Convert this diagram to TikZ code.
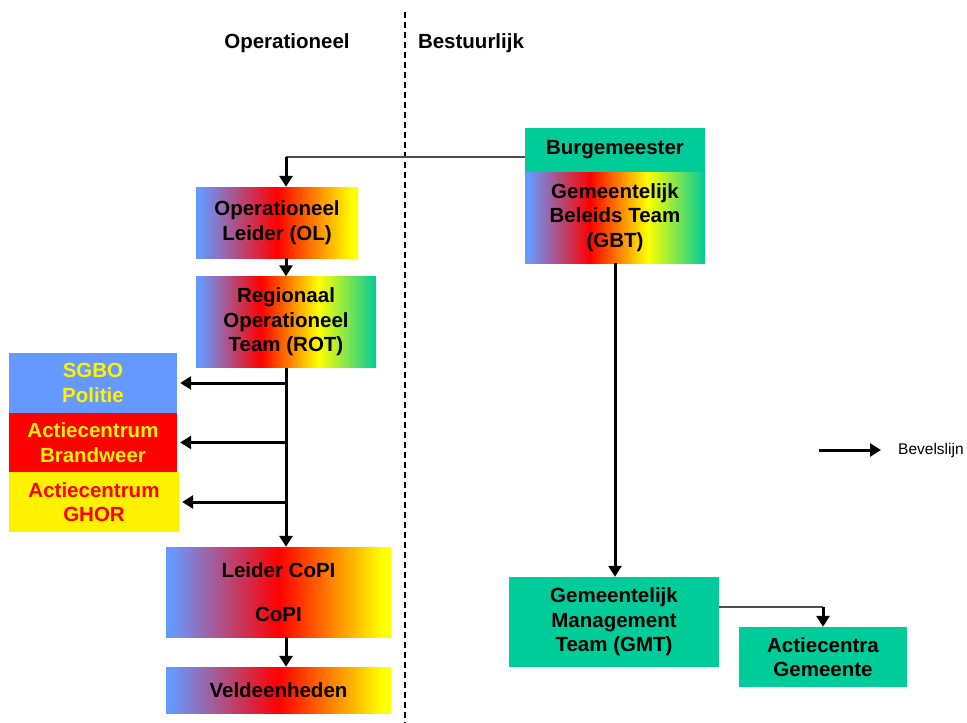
\documentclass[tikz,border=0pt]{standalone}
\usepackage{fontspec}
\setmainfont{Liberation Sans}
\usetikzlibrary{arrows.meta}
\definecolor{pblue}{HTML}{6699FF}
\definecolor{gmgreen}{HTML}{00CC99}
\pgfdeclarehorizontalshading{rainbowthree}{100bp}{color(0bp)=(pblue); color(26bp)=(pblue); color(50bp)=(red); color(73bp)=(yellow); color(100bp)=(yellow)}
\pgfdeclarehorizontalshading{rainbowfour}{100bp}{color(0bp)=(pblue); color(26bp)=(pblue); color(43bp)=(red); color(59bp)=(yellow); color(75bp)=(gmgreen); color(100bp)=(gmgreen)}

\begin{document}
\begin{tikzpicture}[x=1pt,y=-1pt,
    box/.style={rectangle,inner sep=0pt,align=center,font=\bfseries\fontsize{20.5}{24.5}\selectfont},
    rbthree/.style={box,shade,shading=rainbowthree},
    rbfour/.style={box,shade,shading=rainbowfour},
    cmd/.style={line width=3pt,-{Triangle[length=11pt,width=13pt]}},
    thinline/.style={line width=1.4pt,black!70}]
    \useasboundingbox (0,0) rectangle (967,723);

    % kolommen
    \draw [line width=2pt,dash pattern=on 6pt off 4pt] (405,12) -- (405,723);
    \node[box] (opkop) at (287,43) {Operationeel};
    \node[box] (bekop) at (471,43) {Bestuurlijk};

    % bestuurlijk
    \node[box,fill=gmgreen,minimum width=180pt,minimum height=44pt] (burg) at (615,150) {Burgemeester};
    \node[rbfour,minimum width=180pt,minimum height=91pt] (gbt) at (615,217.5) {Gemeentelijk\\Beleids Team\\(GBT)};
    \node[box,fill=gmgreen,minimum width=210pt,minimum height=90pt] (gmt) at (614,622) {Gemeentelijk\\Management\\Team (GMT)};
    \node[box,fill=gmgreen,minimum width=168pt,minimum height=60pt] (actie) at (823,657) {Actiecentra\\Gemeente};

    % operationeel
    \node[rbthree,minimum width=162pt,minimum height=71pt] (ol) at (277,222.5) {Operationeel\\Leider (OL)};
    \node[rbfour,minimum width=180pt,minimum height=91pt] (rot) at (286,322) {Regionaal\\Operationeel\\Team (ROT)};
    \node[box,fill=pblue,text=yellow,minimum width=168pt,minimum height=60pt] (sgbo) at (93,383) {SGBO\\Politie};
    \node[box,fill=red,text=yellow,minimum width=168pt,minimum height=59pt] (brand) at (93,442.5) {Actiecentrum\\Brandweer};
    \node[box,fill=yellow,text=red,minimum width=170pt,minimum height=60pt] (ghor) at (94,502) {Actiecentrum\\GHOR};
    \node[rbthree,minimum width=225pt,minimum height=90pt] (copi) at (278.5,592) {Leider CoPI\\[19.5pt]CoPI};
    \node[rbthree,minimum width=225pt,minimum height=46pt] (veld) at (278.5,690) {Veldeenheden};

    % bevelslijnen
    \coordinate (bk) at (rot.north |- 0,157);
    \draw [thinline] ([yshift=-7pt]burg.west) -- (bk);
    \draw [cmd] (bk) -- (rot.north |- ol.north);
    \draw [cmd] (rot.north |- ol.south) -- (rot.north);
    \draw [cmd] (rot.south) -- (rot.south |- copi.north);
    \foreach \n in {sgbo,brand,ghor} {
        \draw [cmd] (rot.south |- \n.east) -- ([xshift=3pt]\n.east);
    }
    \draw [cmd] (rot.south |- copi.south) -- (rot.south |- veld.north);
    \draw [cmd] (gbt.south) -- (gbt.south |- gmt.north);
    \coordinate (ak) at (actie.north |- 0,607);
    \draw [thinline] (gmt.east |- ak) -- (ak);
    \draw [cmd] (ak) -- (actie.north);

    % legenda
    \coordinate (lg1) at (819,450);
    \coordinate (lg2) at (881,450);
    \draw [cmd] (lg1) -- (lg2);
    \node[anchor=west,inner sep=0pt,font=\fontsize{15.5}{18}\selectfont] (lgtekst) at (898,450) {Bevelslijn};
\end{tikzpicture}
\end{document}
